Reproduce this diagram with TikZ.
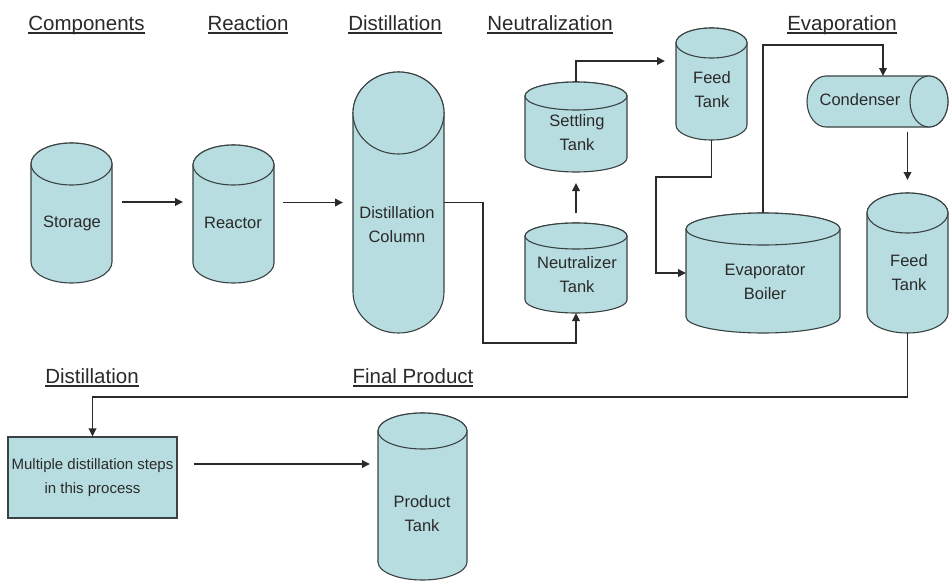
\documentclass[tikz,border=0pt]{standalone}
\usepackage{fontspec}
\setmainfont{Liberation Sans}
\usetikzlibrary{arrows.meta,calc}
\definecolor{tankfill}{HTML}{B8DDE1}
\definecolor{edge}{HTML}{3A4242}
\definecolor{ink}{HTML}{2A2A2A}
\tikzset{
  tank/.style={draw=edge, fill=tankfill, line width=1.1pt},
  anchorbox/.style={inner sep=0pt, outer sep=0pt, draw=none},
  tanklabel/.style={font=\fontsize{16.5}{24}\selectfont, text=ink, align=center, inner sep=0pt},
  heading/.style={font=\fontsize{20.5}{24}\selectfont, text=ink, anchor=base, inner sep=0pt},
  flow/.style={draw=ink, line width=1.8pt, -{Triangle[length=8pt,width=7.5pt]}},
}
\newcommand\vtank[6]{%
  \draw[tank] ({#2-#5},{-(#3+#6)}) -- ({#2-#5},{-(#4-#6)})
     arc[start angle=180,end angle=360,x radius=#5,y radius=#6]
     -- ({#2+#5},{-(#3+#6)})
     arc[start angle=0,end angle=180,x radius=#5,y radius=#6] -- cycle;
  \draw[tank] (#2,{-(#3+#6)}) ellipse[x radius=#5,y radius=#6];
  \node[anchorbox, minimum width={2*#5*1pt}, minimum height={(#4-#3)*1pt}] (#1) at (#2,{-(#3+#4)/2}) {};
}
\newcommand\hul[1]{\setbox0=\hbox{#1}\rlap{\color{ink}\rule[-3.5pt]{\wd0}{1.4pt}}\box0}
\begin{document}
\begin{tikzpicture}[x=1pt,y=1pt]
\useasboundingbox (0,0) rectangle (950,-581);
\fill[white] (0,0) rectangle (950,-581);

% headings
\node[heading] (hcomp) at (86.5,-30) {\hul{Components}};
\node[heading] (hreac) at (248,-30) {\hul{Reaction}};
\node[heading] (hdist) at (395,-30) {\hul{Distillation}};
\node[heading] (hneut) at (550,-30) {\hul{Neutralization}};
\node[heading] (hevap) at (842,-30) {\hul{Evaporation}};
\node[heading] (hdist2) at (92,-383) {\hul{Distillation}};
\node[heading] (hfinal) at (413,-383) {\hul{Final Product}};

% tanks: name, cx, ytop, ybottom, rx, ry
\vtank{storage}{71.5}{143}{283}{40.5}{21}
\vtank{reactor}{233.5}{145}{283}{40.5}{20}
\vtank{column}{398.5}{72}{333}{45.5}{41}
\vtank{settling}{576}{82}{172}{51}{14}
\vtank{neutral}{576}{223}{313}{51}{13}
\vtank{feed1}{711.5}{28}{140}{35.5}{15}
\vtank{evap}{763}{213}{333}{77}{16}
\vtank{feed2}{907.5}{193}{333}{40.5}{20}
\vtank{product}{422.5}{413}{580}{44.5}{18}

% condenser (horizontal)
\draw[tank] (826,-76) -- (929,-76)
   arc[start angle=90,end angle=-90,x radius=19,y radius=25.5]
   -- (826,-127)
   arc[start angle=270,end angle=90,x radius=19,y radius=25.5] -- cycle;
\draw[tank] (929,-101.5) ellipse[x radius=19,y radius=25.5];
\node[anchorbox, minimum width=141pt, minimum height=51pt] (cond) at (877.5,-101.5) {};

% box
\node[draw=edge, fill=tankfill, line width=1.1pt, minimum width=169pt, minimum height=81pt,
      inner sep=0pt, align=center, text=ink, font=\fontsize{15}{24}\selectfont]
      (box) at (92.5,-477.5) {Multiple distillation steps\\in this process};

% tank texts
\node[tanklabel] (storage-t) at (72,-223) {Storage};
\node[tanklabel] (reactor-t) at (233,-223) {Reactor};
\node[tanklabel] (column-t) at (397,-225) {Distillation\\Column};
\node[tanklabel] (settling-t) at (577,-133) {Settling\\Tank};
\node[tanklabel] (neutral-t) at (577,-275) {Neutralizer\\Tank};
\node[tanklabel] (feed1-t) at (712,-90) {Feed\\Tank};
\node[tanklabel] (evap-t) at (765,-282) {Evaporator\\Boiler};
\node[tanklabel] (cond-t) at (860,-100) {Condenser};
\node[tanklabel] (feed2-t) at (909,-273) {Feed\\Tank};
\node[tanklabel] (product-t) at (422,-514) {Product\\Tank};

% connectors
\draw[flow] ($(storage.east)+(10,11)$) -- ($(reactor.west)+(-10,12)$);
\draw[flow] ($(reactor.east |- column.west)+(9,0)$) -- ($(column.west)+(-10,0)$);
\draw[flow] (column.east) -- ++(39,0) |- ($(neutral.south)+(0,-30)$) -- (neutral.south);
\draw[flow, shorten <=10pt, shorten >=11pt] (neutral.north) -- (settling.south);
\draw[flow] (settling.north) |- ($(feed1.west)+(-11,23)$);
\draw[flow] (feed1.south) -- ++(0,-37) -| ($(evap.west)+(-30,0)$) -- (evap.west);
\draw[flow] (evap.north) -- ++(0,168) -| ([xshift=5.5pt]cond.north);
\draw[flow, shorten <=5pt, shorten >=13pt] (cond.south -| feed2.north) -- (feed2.north);
\draw[flow] (feed2.south) -- ++(0,-64) -| (box.north);
\draw[flow] ($(box.east)+(16,13.5)$) -- ($(box.east -| product.west)+(-8,13.5)$);
\end{tikzpicture}
\end{document}
